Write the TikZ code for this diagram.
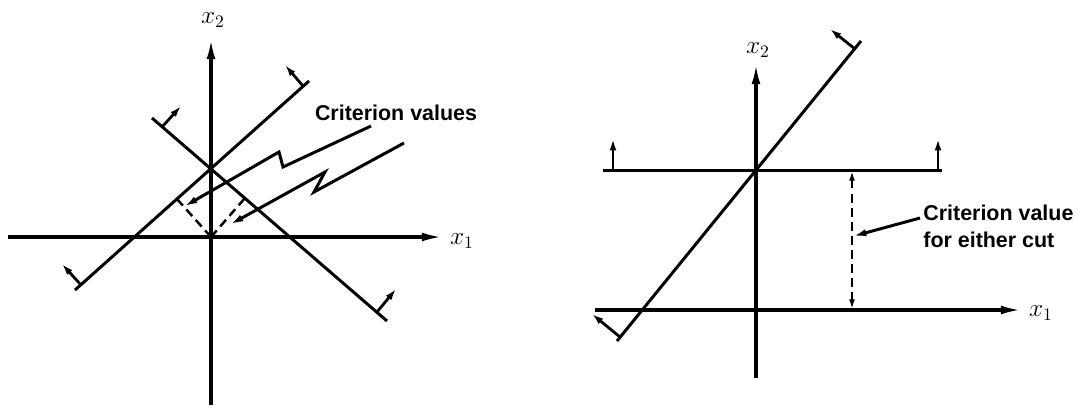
\documentclass[tikz,border=0pt]{standalone}
\usepackage{fontspec}
\setsansfont{Liberation Sans}
\usetikzlibrary{arrows.meta,calc}

\begin{document}
\begin{tikzpicture}[
    x=0.02cm, y=-0.02cm,
    >=Latex,
    axis/.style       = {line width=1.9pt, -{Latex[length=12pt,width=5pt]}},
    cut/.style        = {line width=1.7pt},
    side-arrow/.style = {line width=1.6pt, -{Latex[length=6.5pt,width=4pt]}},
    dropline/.style   = {line width=1.4pt, dash pattern=on 5pt off 3pt},
    pointer/.style    = {line width=1.7pt, -{Latex[length=7pt,width=4.2pt]}},
    callout/.style    = {font=\fontsize{12.2}{15.3}\selectfont\sffamily\bfseries, inner sep=0pt},
    axis-name/.style  = {font=\Large, inner sep=0pt}
  ]
\useasboundingbox (0,0) rectangle (1078,407);

% =========================================================
% LEFT PANEL -- two crossing cuts, criterion value of each
% =========================================================
\begin{scope}
  % Axes
  \coordinate (O)   at (211,237);
  \coordinate (x1w) at (8,237);
  \coordinate (x1e) at (443,237);
  \coordinate (x2s) at (211,405);
  \coordinate (x2n) at (211,38);
  \draw[axis] (x1w) -- (x1e);
  \draw[axis] (x2s) -- (x2n);
  \node[axis-name] (x1) at (462,241) {$x_1$};
  \node[axis-name] (x2) at (213,20) {$x_2$};

  % Cut A (rising) and cut B (falling), both through (0, p)
  \coordinate (Alo) at (75,290);
  \coordinate (Ahi) at (309,81);
  \coordinate (Bhi) at (152,118);
  \coordinate (Blo) at (387,321);
  \draw[cut] (Alo) -- (Ahi);
  \draw[cut] (Bhi) -- (Blo);

  % Feasible-side markers at the ends of the cuts
  \coordinate (Alo-b) at (81,285);   \coordinate (Alo-t) at (62,264);
  \coordinate (Ahi-b) at (303,86);   \coordinate (Ahi-t) at (285,65);
  \coordinate (Bhi-b) at (162,127);  \coordinate (Bhi-t) at (181,106);
  \coordinate (Blo-b) at (377,312);  \coordinate (Blo-t) at (396,289);
  \draw[side-arrow] (Alo-b) -- (Alo-t);
  \draw[side-arrow] (Ahi-b) -- (Ahi-t);
  \draw[side-arrow] (Bhi-b) -- (Bhi-t);
  \draw[side-arrow] (Blo-b) -- (Blo-t);

  % Distances from the origin to each cut
  \coordinate (FA) at (177,199);
  \coordinate (FB) at (245,198);
  \draw[dropline] (O) -- (FA);
  \draw[dropline] (O) -- (FB);

  % Label and the two zigzag pointers
  \node[callout] (crit1) at (396,113) {Criterion values};
  \coordinate (p1a) at (371,126);  \coordinate (p1b) at (283,167);
  \coordinate (p1c) at (279,152);  \coordinate (p1d) at (185,206);
  \coordinate (p2a) at (404,143);  \coordinate (p2b) at (314,192);
  \coordinate (p2c) at (325,172);  \coordinate (p2d) at (231,224);
  \draw[pointer] (p1a) -- (p1b) -- (p1c) -- (p1d);
  \draw[pointer] (p2a) -- (p2b) -- (p2c) -- (p2d);
\end{scope}

% =========================================================
% RIGHT PANEL -- parallel-distance case, one criterion value
% =========================================================
\begin{scope}
  % Axes
  \coordinate (O2)   at (756,310);
  \coordinate (y1w)  at (595,310);
  \coordinate (y1e)  at (1022,310);
  \coordinate (y2s)  at (756,378);
  \coordinate (y2n)  at (756,63);
  \draw[axis] (y1w) -- (y1e);
  \draw[axis] (y2s) -- (y2n);
  \node[axis-name] (y1) at (1041,313) {$x_1$};
  \node[axis-name] (y2) at (758,50) {$x_2$};

  % Horizontal cut and diagonal cut
  \coordinate (Hw) at (603,170);
  \coordinate (He) at (942,170);
  \coordinate (Dlo) at (617,341);
  \coordinate (Dhi) at (861,41);
  \draw[cut] (Hw) -- (He);
  \draw[cut] (Dlo) -- (Dhi);

  % Feasible-side markers
  \coordinate (Hw-b) at (613,170);   \coordinate (Hw-t) at (613,139);
  \coordinate (He-b) at (938,170);   \coordinate (He-t) at (938,139);
  \coordinate (Dhi-b) at (855,49);   \coordinate (Dhi-t) at (830,29);
  \coordinate (Dlo-b) at (620,337);  \coordinate (Dlo-t) at (592,314);
  \draw[side-arrow] (Hw-b) -- (Hw-t);
  \draw[side-arrow] (He-b) -- (He-t);
  \draw[side-arrow] (Dhi-b) -- (Dhi-t);
  \draw[side-arrow] (Dlo-b) -- (Dlo-t);

  % Gap between the two parallel lines
  \coordinate (Gt) at (852,171);
  \coordinate (Gb) at (852,309);
  \draw[dropline, {Latex[length=5.5pt,width=3.4pt]}-{Latex[length=5.5pt,width=3.4pt]}] (Gt) -- (Gb);

  % Label with pointer
  \node[callout, anchor=west, align=left] (crit2) at (923,226)
    {Criterion value\\for either cut};
  \coordinate (q1) at (920,218);
  \coordinate (q2) at (854,236);
  \draw[pointer] (q1) -- (q2);
\end{scope}

\end{tikzpicture}
\end{document}
